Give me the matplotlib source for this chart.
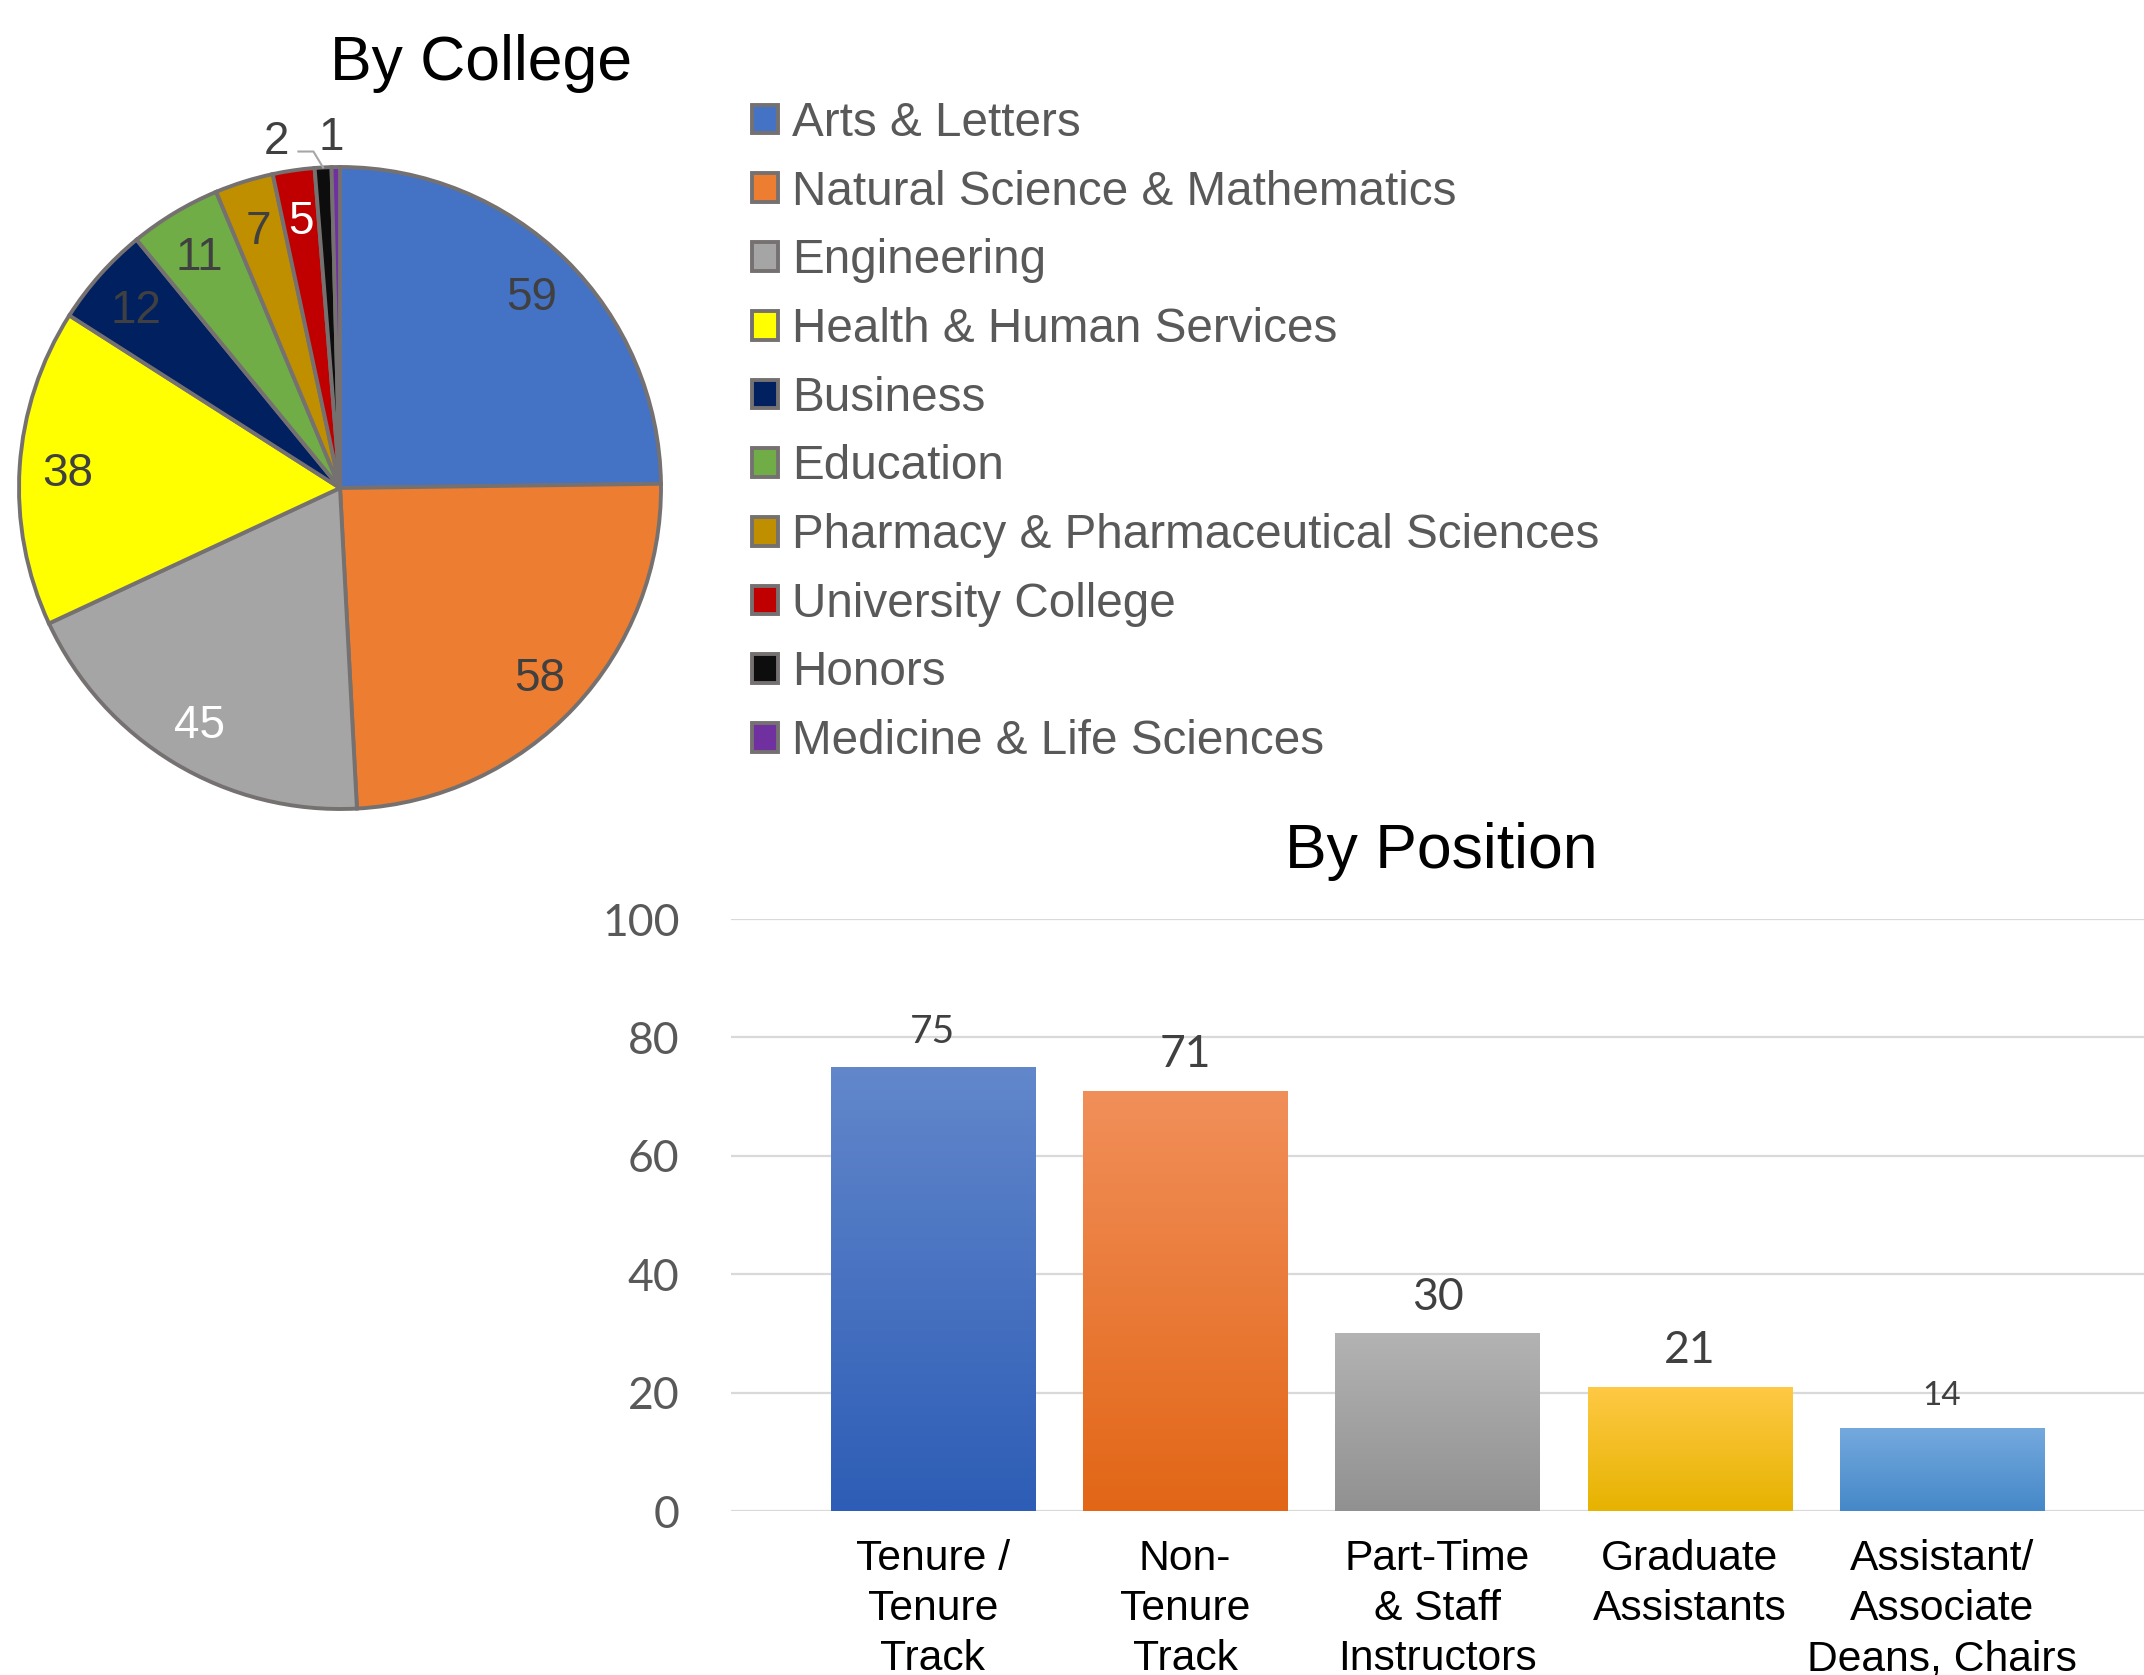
import numpy as np
import matplotlib
matplotlib.use("Agg")
import matplotlib.pyplot as plt
from matplotlib.colors import LinearSegmentedColormap

# ---------------- data ----------------
colleges = ["Arts & Letters", "Natural Science & Mathematics", "Engineering",
            "Health & Human Services", "Business", "Education",
            "Pharmacy & Pharmaceutical Sciences", "University College",
            "Honors", "Medicine & Life Sciences"]
college_counts = [59, 58, 45, 38, 12, 11, 7, 5, 2, 1]

positions = ["Tenure /\nTenure\nTrack", "Non-\nTenure\nTrack",
             "Part-Time\n& Staff\nInstructors", "Graduate\nAssistants",
             "Assistant/\nAssociate\nDeans, Chairs"]
position_counts = [75, 71, 30, 21, 14]
y_ticks = [0, 20, 40, 60, 80, 100]

# ---------------- styles ----------------
pie_colors = ["#4472C4", "#ED7D31", "#A5A5A5", "#FFFF00", "#002060",
              "#70AD47", "#BF8F00", "#C00000", "#0D0D0D", "#7030A0"]
pie_label_colors = ["#404040", "#404040", "#FFFFFF", "#404040", "#404040",
                    "#404040", "#404040", "#FFFFFF", "#404040", "#404040"]
bar_grad = [("#6287CB", "#2D5DB6"), ("#F18F5A", "#E26616"),
            ("#B3B3B3", "#919191"), ("#FFC945", "#E6B300"),
            ("#74A9DE", "#4588C8")]
value_sizes = [28, 32, 32, 32, 24]

W, H = 2144, 1675
fig = plt.figure(figsize=(W / 100, H / 100), dpi=100)
fig.patch.set_facecolor("white")

ARIAL = "Liberation Sans"
CAL = "Lato"

# ---------------- pie ----------------
cx, cy, R = 340, 488, 321
axp = fig.add_axes([(cx - R) / W, 1 - (cy + R) / H, 2 * R / W, 2 * R / H])
wedges, _ = axp.pie(college_counts, colors=pie_colors, startangle=90,
                    counterclock=False, radius=1,
                    wedgeprops=dict(edgecolor="#767171", linewidth=2.8))
for w in wedges:
    w.set_clip_on(False)
axp.set_xlim(-1, 1)
axp.set_ylim(-1, 1)
axp.set_aspect("equal")
axp.axis("off")

n = len(college_counts)
for i, (w, v) in enumerate(zip(wedges, college_counts)):
    mid = np.deg2rad((w.theta1 + w.theta2) / 2)
    if i < n - 2:
        r = 0.85
        x, y = r * np.cos(mid), r * np.sin(mid) - 0.013
        axp.text(x, y, str(v), ha="center", va="center", fontsize=33,
                 family=ARIAL, color=pie_label_colors[i])
    elif i == n - 2:
        # label placed outside with leader line
        ang = mid + np.deg2rad(7)
        tx, ty = 1.10 * np.cos(ang) - 0.008, 1.10 * np.sin(ang) - 0.005
        axp.text(tx, ty, str(v), ha="center", va="center", fontsize=33,
                 family=ARIAL, color=pie_label_colors[i])
        ex, ey = 1.0 * np.cos(mid), 1.0 * np.sin(mid)
        axp.plot([tx + 0.07, ex - 0.03, ex], [ty - 0.03, ty - 0.03, ey],
                 color="#A6A6A6", lw=1.5, clip_on=False)
    else:
        tx, ty = 1.10 * np.cos(mid) - 0.012, 1.09 * np.sin(mid)
        axp.text(tx, ty, str(v), ha="center", va="center", fontsize=33,
                 family=ARIAL, color=pie_label_colors[i])

fig.text(481 / W, 1 - 80 / H, "By College", ha="center", va="baseline",
         fontsize=45, family=ARIAL, color="black")

leg = fig.legend(wedges, colleges, loc="upper left",
                 bbox_to_anchor=(752 / W, 1 - 101 / H), frameon=False,
                 prop=dict(family=ARIAL, size=34.3), labelcolor="#595959",
                 handlelength=0.55, handleheight=0.55, handletextpad=0.3,
                 labelspacing=0.497, borderpad=0, borderaxespad=0)

# ---------------- bars ----------------
axb = fig.add_axes([731 / W, 1 - 1511 / H, (W - 731) / W, 592 / H])
xs = np.arange(len(positions))
bars = axb.bar(xs, position_counts, width=0.81, color=[g[1] for g in bar_grad],
               zorder=2)
for b, (top, bot) in zip(bars, bar_grad):
    cmap = LinearSegmentedColormap.from_list("g", [bot, top])
    grad = np.linspace(0, 1, 256).reshape(-1, 1)
    x0, y0 = b.get_x(), b.get_y()
    im = axb.imshow(grad, cmap=cmap, origin="lower", aspect="auto",
                    extent=[x0, x0 + b.get_width(), y0, y0 + b.get_height()],
                    zorder=3)
    im.set_clip_path(b)

for x, v, s in zip(xs, position_counts, value_sizes):
    axb.annotate(str(v), (x, v), xytext=(0, 17), textcoords="offset points",
                 ha="center", va="baseline", fontsize=s, family=CAL,
                 color="#404040")

axb.set_xlim(-0.8, len(positions) - 0.2)
axb.set_ylim(0, 100)
axb.set_yticks(y_ticks)
axb.set_yticklabels([str(t) for t in y_ticks], family=CAL, fontsize=32,
                    color="#595959")
axb.set_xticks(xs)
axb.set_xticklabels(positions, family=ARIAL, fontsize=30.7, color="black",
                    linespacing=1.33, va="top")
axb.tick_params(axis="y", length=0, pad=37)
axb.tick_params(axis="x", length=0, pad=20)
for sp in axb.spines.values():
    sp.set_visible(False)
axb.grid(axis="y", color="#D9D9D9", linewidth=1.6, zorder=0)
axb.set_axisbelow(True)
axb.set_facecolor("none")

fig.text(1441 / W, 1 - 868 / H, "By Position", ha="center", va="baseline",
         fontsize=45, family=ARIAL, color="black")

fig.savefig("out.png", dpi=100, facecolor="white")
